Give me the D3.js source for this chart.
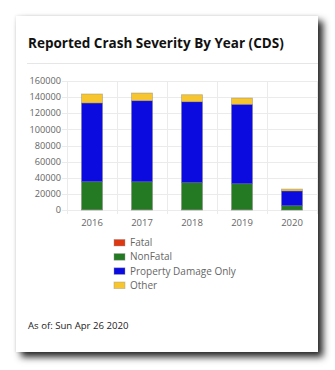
<!DOCTYPE html>
<html><head><meta charset="utf-8">
<script src="https://cdn.jsdelivr.net/npm/d3@7"></script>
<style>
html,body{margin:0;padding:0;background:#fff;width:335px;height:370px;overflow:hidden;}
#card{position:absolute;left:16px;top:16px;width:302px;height:336px;background:#fff;
 box-shadow:0 0 3px rgba(0,0,0,0.12),5px 5px 7px rgba(0,0,0,0.85);}
svg{position:absolute;left:0;top:0;}
</style></head><body>
<div id="card"></div>
<svg id="chart" width="335" height="370"></svg>
<script>
const years = ["2016","2017","2018","2019","2020"];
const fatal = [290, 300, 280, 270, 45];
const nonFatal = [34800, 34700, 33600, 32300, 5250];
const propertyDamage = [97600, 100600, 100400, 98500, 18300];
const other = [11200, 9500, 8700, 7800, 2400];
const seriesNames = ["Fatal","NonFatal","Property Damage Only","Other"];
const seriesColors = ["#dc3912","#237a23","#0b0bdf","#f6c52f"];
const yTicks = [0,20000,40000,60000,80000,100000,120000,140000,160000];
const title = "Reported Crash Severity By Year (CDS)";
const asOf = "As of: Sun Apr 26 2020";

const svg = d3.select("#chart");
const font = "'Open Sans', 'Noto Sans', sans-serif";

svg.append("text").attr("x",28).attr("y",48).text(title)
  .attr("font-family",font).attr("font-weight","bold").attr("font-size",13.5).attr("fill","#111");
svg.append("line").attr("x1",27).attr("x2",318).attr("y1",63.5).attr("y2",63.5).attr("stroke","#e6e6e6");

const x = d3.scaleBand().domain(years).range([67,317]).paddingInner(0.58).paddingOuter(0.29);
const y = d3.scaleLinear().domain([0,160000]).range([210,81]);

const g = svg.append("g");
g.selectAll(".hg").data(yTicks).join("line")
  .attr("x1",62).attr("x2",317).attr("y1",d=>Math.round(y(d))+0.5).attr("y2",d=>Math.round(y(d))+0.5)
  .attr("stroke","#ebebeb");
const step = x.step();
const vx = d3.range(years.length+1).map(i=>67+i*step);
g.selectAll(".vg").data(vx).join("line")
  .attr("x1",d=>Math.round(d)+0.5).attr("x2",d=>Math.round(d)+0.5).attr("y1",81).attr("y2",214)
  .attr("stroke","#ebebeb");

g.selectAll(".yt").data(yTicks).join("text")
  .attr("x",61).attr("y",d=>y(d)).attr("dy","0.35em").attr("text-anchor","end")
  .attr("font-family",font).attr("font-size",9.2).attr("fill","#666").text(d=>d);
g.selectAll(".xt").data(years).join("text")
  .attr("x",d=>x(d)+x.bandwidth()/2).attr("y",223).attr("dy","0.35em").attr("text-anchor","middle")
  .attr("font-family",font).attr("font-size",9.5).attr("fill","#666").text(d=>d);

const rows = years.map((yr,i)=>({year:yr, s0:fatal[i], s1:nonFatal[i], s2:propertyDamage[i], s3:other[i]}));
const stack = d3.stack().keys(["s0","s1","s2","s3"]);
const layers = stack(rows);
layers.forEach((layer,li)=>{
  g.selectAll(".b"+li).data(layer).join("rect")
    .attr("x",d=>x(d.data.year)).attr("width",x.bandwidth())
    .attr("y",d=>y(d[1])).attr("height",d=>Math.max(0,y(d[0])-y(d[1])))
    .attr("fill",seriesColors[li]).attr("stroke","rgba(120,120,120,0.45)").attr("stroke-width",0.8);
});

const lg = svg.append("g");
seriesNames.forEach((n,i)=>{
  const cy = 242.7 + i*14.2;
  lg.append("rect").attr("x",114).attr("y",cy-3.3).attr("width",11).attr("height",6.6)
    .attr("fill",seriesColors[i]).attr("stroke","rgba(150,150,150,0.5)").attr("stroke-width",0.8);
  lg.append("text").attr("x",130).attr("y",cy).attr("dy","0.35em")
    .attr("font-family",font).attr("font-size",10).attr("fill","#666").text(n);
});

svg.append("text").attr("x",28).attr("y",326).attr("dy","0.35em").text(asOf)
  .attr("font-family",font).attr("font-size",9.6).attr("fill","#222");
</script>
</body></html>
